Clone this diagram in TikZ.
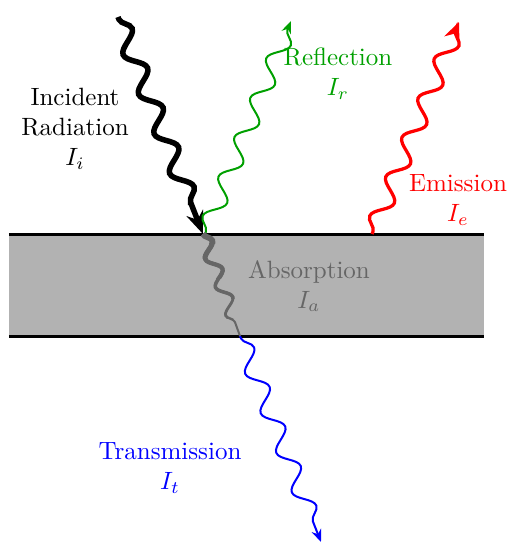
\documentclass[tikz,border=0pt]{standalone}
\usepackage{amsmath}
\usetikzlibrary{arrows.meta,decorations.pathmorphing,positioning}
\definecolor{reflgreen}{RGB}{0,160,0}
\definecolor{absgray}{RGB}{102,102,102}

\begin{document}
\begin{tikzpicture}[x=0.4pt, y=0.4pt,
  wave/.style={decorate, decoration={snake, segment length=17pt,
               amplitude=3.6pt, pre length=1pt, post length=#1}},
  wave/.default=4pt,
  lab/.style={align=center, inner sep=1pt},
  slab/.style={line width=1.2pt}]
\useasboundingbox (0,0) rectangle (508,543);
% slab
\fill[black!30] (9,207) rectangle (484,309);
\draw[slab] (9,309) -- (484,309);
\draw[slab] (9,207) -- (484,207);
% end points of the rays
\coordinate (src) at (118,526);
\coordinate (hit) at (203,309);
\coordinate (rbot) at (205,309);
\coordinate (rtop) at (291,522);
\coordinate (emit) at (372,309);
\coordinate (etop) at (459,521);
\coordinate (exit) at (240,207);
\coordinate (tbot) at (321,1);
% rays
\draw[line width=2.2pt, wave=6pt, -{Stealth[length=9pt, width=7pt]}]
  (src) -- (hit);
\draw[reflgreen, line width=0.8pt, wave=3pt,
  -{Stealth[length=5pt, width=4pt]}] (rbot) -- (rtop);
\draw[red, line width=1.3pt, wave=3pt,
  -{Stealth[length=7.5pt, width=6.5pt]}] (emit) -- (etop);
\draw[blue, line width=0.8pt, wave=4pt,
  -{Stealth[length=5pt, width=4pt]}] (exit) -- (tbot);
% absorption, getting thinner
\tikzset{absorb/.style={absgray, decorate,
  decoration={snake, segment length=12pt, amplitude=2.6pt, post length=2pt}}}
\draw[absorb, line width=0.8pt] (hit) -- (exit);
\foreach \w/\yc in {1.1pt/225, 1.4pt/245, 1.7pt/265, 2.0pt/285, 2.3pt/300}{
  \begin{scope}
    \clip (150,\yc) rectangle (300,320);
    \draw[absorb, line width=\w] (hit) -- (exit);
  \end{scope}
}
% labels
\node[lab] (inclab) at (75,414) {Incident\\Radiation\\$I_i$};
\node[lab, reflgreen] (refllab) at (338,469) {Reflection\\$I_r$};
\node[lab, red] (emitlab) at (458,343) {Emission\\$I_e$};
\node[lab, absgray] (abslab) at (309,257) {Absorption\\$I_a$};
\node[lab, blue] (translab) at (170,75) {Transmission\\$I_t$};
\end{tikzpicture}
\end{document}
